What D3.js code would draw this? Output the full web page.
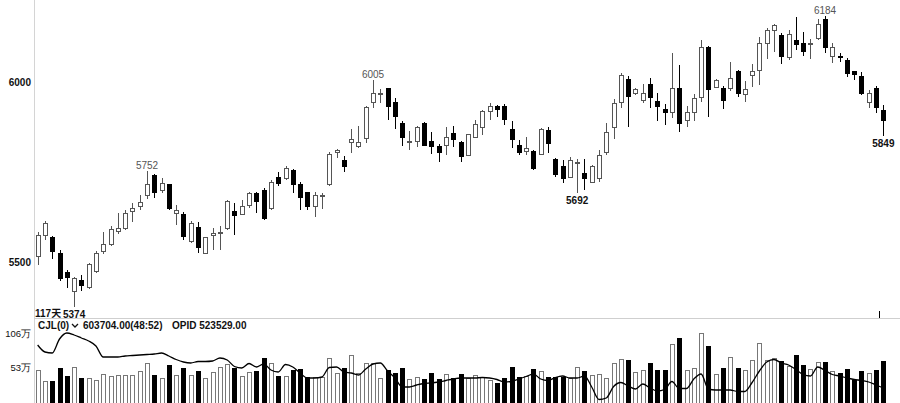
<!DOCTYPE html>
<html><head><meta charset="utf-8">
<script src="https://cdn.jsdelivr.net/npm/d3@7"></script>
<style>
html,body{margin:0;padding:0;background:#fff;}
svg{display:block;font-family:"Liberation Sans",Arial,sans-serif;}
</style></head>
<body>
<svg id="c" width="900" height="403"></svg>
<script>
const open = [5514,5575,5567,5525,5472,5417,5450,5428,5475,5528, 5550,5586,5594,5639,5653,5686,5739,5700,5714,5636, 5631,5558,5597,5525,5575,5578,5594,5639,5633,5656, 5689,5700,5650,5736,5733,5753,5714,5692,5653,5682, 5714,5803,5783,5831,5822,5842,5942,5964,5981,5942, 5886,5831,5836,5886,5836,5822,5825,5858,5833,5797, 5847,5875,5919,5931,5931,5867,5825,5806,5806,5800, 5864,5786,5764,5736,5774,5747,5722,5733,5803,5875, 5942,6006,5969,5950,5992,5947,5925,5914,5983,5892, 5914,5956,6097,5986,5983,5981,6028,5964,6019,6031, 6108,6144,6128,6069,6114,6108,6106,6122,6175,6072, 6072,6061,6028,6014,5942,5981,5922];
const close = [5575,5608,5528,5453,5458,5453,5436,5492,5525,5550, 5589,5594,5636,5650,5664,5714,5694,5717,5650,5644, 5572,5608,5539,5567,5578,5583,5667,5628,5653,5689, 5667,5622,5722,5717,5761,5714,5678,5653,5686,5685, 5800,5811,5764,5839,5831,5928,5967,5969,5931,5903, 5847,5836,5875,5825,5822,5803,5847,5839,5792,5853, 5883,5917,5931,5925,5897,5839,5803,5814,5761,5867, 5828,5742,5733,5783,5776,5733,5764,5797,5861,5939, 6019,5961,5978,5969,5956,5931,5914,5981,5886,5914, 5953,6097,5978,6003,5950,6011,5969,5978,6028,6108, 6144,6156,6072,6133,6103,6086,6108,6161,6097,6097, 6067,6025,6022,5969,5969,5928,5894];
const high = [5583,5614,5572,5533,5478,5458,5464,5497,5531,5583, 5600,5636,5644,5664,5686,5752,5744,5733,5717,5658, 5639,5614,5611,5569,5594,5600,5672,5664,5672,5694, 5694,5705,5728,5750,5767,5758,5722,5694,5694,5692, 5806,5814,5794,5869,5878,5933,6005,5981,5983,5956, 5892,5864,5878,5889,5861,5828,5875,5878,5836,5856, 5894,5922,5942,5936,5939,5892,5839,5847,5811,5872, 5875,5789,5783,5792,5786,5786,5769,5811,5886,5953, 6025,6017,5983,5994,6011,5969,5939,6081,6047,5933, 5967,6117,6100,6008,5989,6056,6033,6003,6050,6125, 6150,6161,6136,6144,6181,6139,6119,6175,6184,6108, 6081,6067,6028,6028,5978,5989,5936];
const low = [5492,5561,5508,5447,5428,5374,5419,5425,5469,5522, 5544,5578,5589,5611,5644,5675,5678,5692,5644,5603, 5561,5553,5525,5522,5533,5533,5589,5575,5630,5650, 5636,5617,5644,5711,5728,5692,5644,5644,5625,5647, 5711,5789,5750,5803,5817,5831,5928,5942,5894,5869, 5822,5811,5819,5822,5800,5778,5797,5819,5778,5794, 5844,5853,5894,5903,5881,5817,5797,5797,5755,5797, 5803,5736,5719,5733,5692,5700,5719,5722,5797,5842, 5928,5875,5964,5942,5928,5892,5881,5900,5861,5875, 5892,5944,5903,5983,5925,5975,5958,5944,5986,5992, 6064,6083,6050,6061,6089,6072,6064,6117,6081,6053, 6056,6014,6006,5964,5928,5914,5849];
// volume in 万
const volume = [48.3,30.1,30.1,51.4,37.9,52.5,35.4,34.3,32.7,41.6, 37.9,40.5,40.5,39.4,45.7,58.8,39.0,35.4,55.0,40.5, 49.9,40.5,45.7,35.4,44.7,51.9,57.2,51.0,37.9,44.1, 45.7,65.5,58.8,37.9,37.9,46.8,49.4,36.3,36.3,36.3, 66.6,43.2,51.0,70.6,42.1,58.8,58.8,35.4,46.8,43.2, 51.0,33.8,36.9,33.8,43.2,33.8,41.6,35.4,41.6,35.4, 39.4,36.3,32.7,27.6,35.4,52.5,36.3,37.9,49.4,45.7, 36.9,36.3,36.3,35.4,52.5,45.7,39.4,41.6,35.4,57.7, 65.0,63.9,44.7,47.2,58.8,46.8,48.3,88.4,97.7,46.8, 51.0,105.5,85.7,41.6,51.0,68.1,51.0,48.3,63.9,88.9, 62.4,66.6,61.3,53.5,70.2,56.1,49.4,60.3,59.7,45.7, 43.2,49.4,31.6,45.7,43.2,48.3,60.8];
// open interest in 万
const oi = [73.85,70.35,69.85,76.85,79.85,78.85,77.35,75.85,73.35,67.85, 67.85,67.85,68.35,68.6,68.85,69.1,69.35,69.85,68.35,66.6, 65.35,64.85,65.6,65.6,65.85,67.35,66.35,63.1,62.35,64.6, 62.85,64.35,61.35,60.35,64.1,62.85,59.85,57.35,57.35,57.85, 62.6,62.85,60.35,59.85,58.85,61.85,64.35,64.85,60.85,57.35, 52.85,52.85,53.85,54.6,54.85,55.35,56.1,56.85,57.35,57.35, 57.35,57.6,57.35,56.6,55.35,55.6,56.85,58.1,59.35,56.85, 56.1,57.6,58.35,57.35,57.35,58.35,52.85,46.6,47.35,53.1, 55.1,53.35,51.85,54.35,52.35,50.85,51.6,55.6,52.1,52.1, 56.85,59.35,51.85,51.35,51.35,51.35,50.6,50.6,55.1,60.85, 65.35,66.6,64.85,63.85,61.6,59.1,58.35,62.85,61.1,59.1, 58.35,57.35,56.6,56.1,55.35,53.85,52.35];
const priceTicks = [5500, 6000];
const volTicks = [53, 106];
const highMarks = [15, 46, 108];
const lowMarks = [5, 74, 116];
const dayCount = "117天";
const header = ["CJL(0)", "603704.00(48:52)", "OPID 523529.00"];

const svg = d3.select("#c");
const n = open.length;
const x = d3.scaleBand().domain(d3.range(n)).range([34, 887]).paddingInner(0);
const cx = i => x(i) + x.bandwidth()/2;
const y = d3.scaleLinear().domain([5500, 6000]).range([262, 82]);
const yv = d3.scaleLinear().domain([0, 106]).range([401, 333]);
const yo = d3.scaleLinear().domain([45.85, 79.85]).range([401, 333]);

// frame lines
svg.append("line").attr("x1",34.5).attr("x2",34.5).attr("y1",0).attr("y2",403).attr("stroke","#d4d4d4");
svg.append("line").attr("x1",34).attr("x2",900).attr("y1",318.5).attr("y2",318.5).attr("stroke","#cfcfcf");
svg.append("line").attr("x1",879.5).attr("x2",879.5).attr("y1",311).attr("y2",318).attr("stroke","#000");

// price axis
const ay = svg.append("g").attr("transform","translate(34,0)")
  .call(d3.axisLeft(y).tickValues(priceTicks).tickSize(0).tickPadding(3).tickFormat(d3.format("d")));
ay.select(".domain").remove();
ay.selectAll("text").attr("font-family","Liberation Sans, Arial").attr("font-size",10).attr("font-weight","bold").attr("fill","#111");

// volume axis
const av = svg.append("g").attr("transform","translate(34,0)")
  .call(d3.axisLeft(yv).tickValues(volTicks).tickSize(0).tickPadding(3).tickFormat(d => d + "万"));
av.select(".domain").remove();
av.selectAll("text").attr("font-family","Liberation Sans, Arial").attr("font-size",9.5).attr("fill","#111");

const bw = 5;
const g = svg.append("g").attr("shape-rendering","crispEdges");
const idx = d3.range(n);
const up = i => close[i] >= open[i];

// wicks
g.selectAll("line.w").data(idx).join("line")
  .attr("x1", i => Math.round(cx(i)) + 0.5).attr("x2", i => Math.round(cx(i)) + 0.5)
  .attr("y1", i => y(high[i])).attr("y2", i => y(low[i]))
  .attr("stroke", i => up(i) ? "#555" : "#000").attr("stroke-width",1);

// bodies
g.selectAll("rect.b").data(idx).join("rect")
  .attr("x", i => Math.round(cx(i)) - 2 + 0.5)
  .attr("width", bw - 1)
  .attr("y", i => y(Math.max(open[i], close[i])))
  .attr("height", i => Math.max(1, Math.abs(y(open[i]) - y(close[i]))))
  .attr("fill", i => up(i) ? "#fff" : "#000")
  .attr("stroke", i => up(i) ? "#555" : "#000").attr("stroke-width",1);

// volume bars
const gv = svg.append("g").attr("shape-rendering","crispEdges");
gv.selectAll("rect").data(idx).join("rect")
  .attr("x", i => Math.round(cx(i)) - 2 + 0.5)
  .attr("width", bw - 1)
  .attr("y", i => yv(volume[i]))
  .attr("height", i => 403 - yv(volume[i]))
  .attr("fill", i => up(i) ? "#fff" : "#000")
  .attr("stroke", i => up(i) ? "#777" : "#000").attr("stroke-width",1);

// OI line
svg.append("path").datum(idx)
  .attr("d", d3.line().x(i => cx(i)).y(i => yo(oi[i])).curve(d3.curveMonotoneX))
  .attr("fill","none").attr("stroke","#000").attr("stroke-width",1.3);

// high/low labels
svg.selectAll("text.hi").data(highMarks).join("text")
  .attr("x", i => cx(i)).attr("y", i => y(high[i]) - 2)
  .attr("text-anchor","middle").attr("font-size",10).attr("fill","#555")
  .text(i => high[i]);
svg.selectAll("text.lo").data(lowMarks).join("text")
  .attr("x", i => cx(i)).attr("y", i => y(low[i]) + 11)
  .attr("text-anchor","middle").attr("font-size",10).attr("font-weight","bold").attr("fill","#111")
  .text(i => low[i]);

svg.append("text").attr("x",35).attr("y",317).attr("font-size",10).attr("font-weight","bold")
  .attr("fill","#111").attr("font-family","Liberation Sans, Noto Sans CJK SC").text(dayCount);

// header
const hx = [38, 83, 172];
svg.selectAll("text.hd").data(header).join("text")
  .attr("x", (d,k) => hx[k]).attr("y", 329)
  .attr("font-size",10).attr("font-weight","bold").attr("fill","#111").text(d => d);
svg.append("path").attr("d","M72,324 L75,327 L78,324").attr("fill","none").attr("stroke","#111").attr("stroke-width",1.3);
</script>
</body></html>
